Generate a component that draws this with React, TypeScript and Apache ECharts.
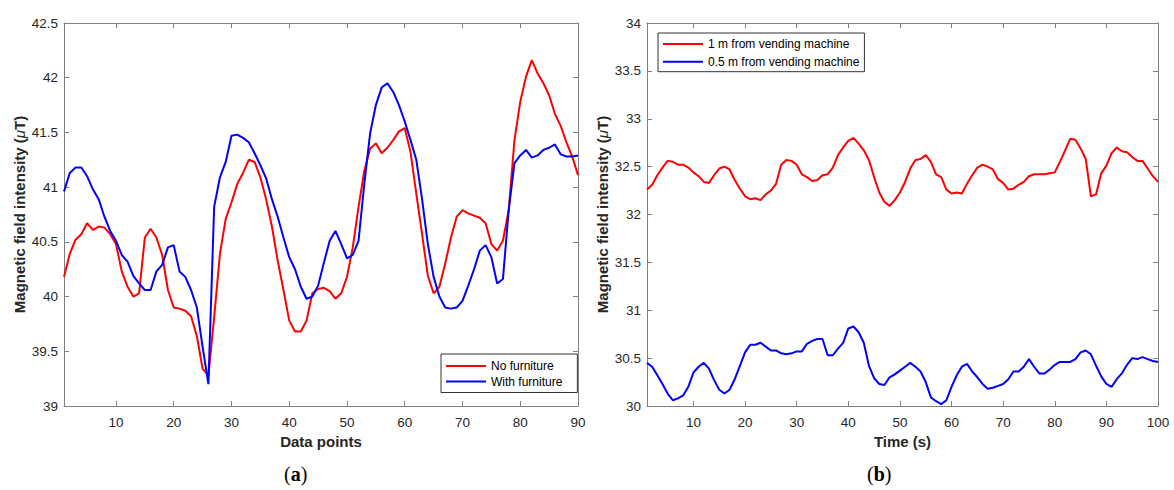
import React, { useEffect, useRef } from "react";
import * as echarts from "echarts";

const noFurniture = [
  40.18, 40.39, 40.52, 40.57, 40.67, 40.61, 40.64, 40.63, 40.57, 40.48,
  40.23, 40.09, 40.0, 40.03, 40.54, 40.62, 40.54, 40.38, 40.06, 39.9,
  39.89, 39.87, 39.82, 39.64, 39.34, 39.28, 39.81, 40.39, 40.71, 40.86,
  41.03, 41.13, 41.25, 41.23, 41.09, 40.89, 40.64, 40.33, 40.06, 39.78,
  39.68, 39.68, 39.78, 40.03, 40.07, 40.08, 40.05, 39.98, 40.03, 40.18,
  40.45, 40.82, 41.15, 41.35, 41.4, 41.31, 41.36, 41.43, 41.51, 41.54,
  41.32, 40.94, 40.57, 40.19, 40.03, 40.09, 40.3, 40.54, 40.73, 40.79,
  40.76, 40.74, 40.72, 40.67, 40.48, 40.42, 40.51, 40.79, 41.43, 41.78,
  42.01, 42.16, 42.04, 41.95, 41.84, 41.67, 41.56, 41.41, 41.28, 41.11,
];

const withFurniture = [
  40.96, 41.13, 41.18, 41.18, 41.1, 40.98, 40.89, 40.73, 40.6, 40.51,
  40.38, 40.32, 40.19, 40.12, 40.06, 40.06, 40.23, 40.29, 40.45, 40.47,
  40.23, 40.18, 40.06, 39.9, 39.54, 39.2, 40.82, 41.09, 41.23, 41.47,
  41.48, 41.45, 41.41, 41.31, 41.2, 41.08, 40.89, 40.73, 40.54, 40.36,
  40.25, 40.09, 39.98, 40.0, 40.1, 40.31, 40.51, 40.6, 40.48, 40.35,
  40.38, 40.51, 41.03, 41.49, 41.75, 41.91, 41.95, 41.87, 41.75, 41.6,
  41.43, 41.25, 40.89, 40.48, 40.18, 40.0, 39.9, 39.89, 39.9, 39.96,
  40.1, 40.25, 40.42, 40.47, 40.36, 40.12, 40.16, 40.79, 41.22, 41.29,
  41.34, 41.27, 41.29, 41.34, 41.36, 41.39, 41.3, 41.28, 41.28, 41.29,
];

const oneMeter = [
  32.26, 32.31, 32.41, 32.49, 32.56, 32.55, 32.52, 32.52, 32.49, 32.44,
  32.4, 32.34, 32.33, 32.41, 32.48, 32.5, 32.47, 32.36, 32.27, 32.19,
  32.16, 32.17, 32.15, 32.21, 32.25, 32.32, 32.52, 32.57, 32.56, 32.52,
  32.42, 32.39, 32.35, 32.36, 32.41, 32.42, 32.49, 32.62, 32.7, 32.77,
  32.8, 32.74, 32.67, 32.57, 32.39, 32.23, 32.13, 32.09, 32.15, 32.23,
  32.34, 32.48, 32.57, 32.58, 32.62, 32.55, 32.42, 32.39, 32.26, 32.22,
  32.23, 32.22, 32.32, 32.41, 32.49, 32.52, 32.5, 32.47, 32.37, 32.33,
  32.26, 32.27, 32.31, 32.34, 32.4, 32.42, 32.42, 32.42, 32.43, 32.44,
  32.55, 32.67, 32.79, 32.78, 32.69, 32.58, 32.19, 32.21, 32.43, 32.51,
  32.64, 32.7, 32.66, 32.65, 32.6, 32.56, 32.56, 32.48, 32.4, 32.34,
];

const halfMeter = [
  30.45, 30.41, 30.32, 30.23, 30.13, 30.06, 30.08, 30.11, 30.2, 30.35,
  30.41, 30.45, 30.39, 30.27, 30.17, 30.13, 30.17, 30.28, 30.42, 30.56,
  30.64, 30.64, 30.66, 30.62, 30.58, 30.58, 30.55, 30.54, 30.55, 30.57,
  30.57, 30.65, 30.68, 30.7, 30.7, 30.53, 30.53, 30.6, 30.66, 30.81,
  30.83, 30.77, 30.66, 30.42, 30.29, 30.23, 30.22, 30.3, 30.33, 30.37,
  30.41, 30.45, 30.41, 30.36, 30.25, 30.09, 30.05, 30.02, 30.06, 30.2,
  30.32, 30.41, 30.44, 30.36, 30.3, 30.23, 30.18, 30.19, 30.21, 30.23,
  30.28, 30.36, 30.36, 30.41, 30.49, 30.41, 30.34, 30.34, 30.38, 30.43,
  30.46, 30.46, 30.46, 30.49, 30.56, 30.58, 30.54, 30.42, 30.31, 30.23,
  30.2, 30.28, 30.34, 30.43, 30.5, 30.49, 30.51, 30.49, 30.47, 30.46,
];

const ticksA = [10, 20, 30, 40, 50, 60, 70, 80, 90];
const ticksB = [10, 20, 30, 40, 50, 60, 70, 80, 90, 100];

const FONT = "'Liberation Sans', Arial, Helvetica, sans-serif";
const AXIS_COLOR = "#808080";
const LABEL_COLOR = "#262626";

function toPairs(arr: number[]) {
  return arr.map((v, i) => [i + 1, v]);
}

function xAx(gridIndex: number, max: number, ticks: number[], pos: "bottom" | "top", name: string) {
  const bottom = pos === "bottom";
  return {
    type: "value",
    gridIndex,
    position: pos,
    min: 1,
    max,
    name: bottom ? name : "",
    nameLocation: "middle",
    nameGap: 26,
    nameTextStyle: { fontFamily: FONT, fontSize: 15, fontWeight: "bold", color: LABEL_COLOR },
    axisLine: { show: true, onZero: false, lineStyle: { color: AXIS_COLOR, width: 1 } },
    axisTick: { show: true, inside: true, length: 5, customValues: ticks, lineStyle: { color: AXIS_COLOR } },
    axisLabel: {
      show: bottom,
      customValues: ticks,
      margin: 9,
      fontFamily: FONT,
      fontSize: 13.5,
      color: LABEL_COLOR,
    },
    splitLine: { show: false },
  };
}

function yAx(gridIndex: number, min: number, max: number, pos: "left" | "right") {
  const left = pos === "left";
  return {
    type: "value",
    gridIndex,
    position: pos,
    min,
    max,
    interval: 0.5,
    name: left ? "Magnetic field intensity ({i|μ}T)" : "",
    nameLocation: "middle",
    nameGap: 37,
    nameTextStyle: {
      fontFamily: FONT,
      fontSize: 15,
      fontWeight: "bold",
      color: LABEL_COLOR,
      rich: { i: { fontFamily: FONT, fontSize: 15, fontStyle: "italic", fontWeight: "normal", color: LABEL_COLOR } },
    },
    axisLine: { show: true, onZero: false, lineStyle: { color: AXIS_COLOR, width: 1 } },
    axisTick: { show: true, inside: true, length: 5, lineStyle: { color: AXIS_COLOR } },
    axisLabel: { show: left, margin: 6, fontFamily: FONT, fontSize: 13.5, color: LABEL_COLOR },
    splitLine: { show: false },
  };
}

function lineSeries(name: string, data: number[], color: string, xi: number, yi: number) {
  return {
    name,
    type: "line",
    xAxisIndex: xi,
    yAxisIndex: yi,
    data: toPairs(data),
    symbol: "none",
    showSymbol: false,
    lineStyle: { color, width: 2 },
    itemStyle: { color },
    clip: true,
  };
}

const legendBase = {
  orient: "vertical",
  icon: "rect",
  itemWidth: 40,
  itemHeight: 2,
  itemGap: 1.5,
  backgroundColor: "#ffffff",
  borderColor: "#333333",
  borderWidth: 1,
  borderRadius: 0,
  textStyle: { fontFamily: FONT, fontSize: 12, color: "#000000", lineHeight: 14 },
};

export default function App() {
  const ref = useRef<HTMLDivElement>(null);
  useEffect(() => {
    if (!ref.current) return;
    const chart = echarts.init(ref.current, null, { renderer: "svg" });
    chart.setOption({
      animation: false,
      backgroundColor: "#ffffff",
      grid: [
        { left: 64, top: 23, width: 514, height: 383 },
        { left: 647, top: 23, width: 511, height: 383 },
      ],
      xAxis: [
        xAx(0, 90, ticksA, "bottom", "Data points"),
        xAx(0, 90, ticksA, "top", ""),
        xAx(1, 100, ticksB, "bottom", "Time (s)"),
        xAx(1, 100, ticksB, "top", ""),
      ],
      yAxis: [
        yAx(0, 39, 42.5, "left"),
        yAx(0, 39, 42.5, "right"),
        yAx(1, 30, 34, "left"),
        yAx(1, 30, 34, "right"),
      ],
      legend: [
        {
          ...legendBase,
          data: ["No furniture", "With furniture"],
          left: 441,
          top: 354,
          padding: [5, 15, 4, 5],
        },
        {
          ...legendBase,
          data: ["1 m from vending machine", "0.5 m from vending machine"],
          left: 658,
          top: 33,
          itemGap: 3.7,
          padding: [4, 5, 3, 5],
        },
      ],
      series: [
        lineSeries("No furniture", noFurniture, "#ff0000", 0, 0),
        lineSeries("With furniture", withFurniture, "#0000ff", 0, 0),
        lineSeries("1 m from vending machine", oneMeter, "#ff0000", 2, 2),
        lineSeries("0.5 m from vending machine", halfMeter, "#0000ff", 2, 2),
      ],
      graphic: [
        {
          type: "text",
          left: 284,
          top: 464,
          style: {
            text: "({b|a})",
            fontFamily: "'Liberation Serif', 'DejaVu Serif', serif",
            fontSize: 20,
            fill: "#000000",
            rich: { b: { fontFamily: "'Liberation Serif', 'DejaVu Serif', serif", fontSize: 20, fontWeight: "bold", fill: "#000000" } },
          },
        },
        {
          type: "text",
          left: 867,
          top: 464,
          style: {
            text: "({b|b})",
            fontFamily: "'Liberation Serif', 'DejaVu Serif', serif",
            fontSize: 20,
            fill: "#000000",
            rich: { b: { fontFamily: "'Liberation Serif', 'DejaVu Serif', serif", fontSize: 20, fontWeight: "bold", fill: "#000000" } },
          },
        },
      ],
    });
    return () => chart.dispose();
  }, []);
  return (
    <div
      ref={ref}
      style={{ position: "fixed", left: 0, top: 0, width: 1174, height: 490, background: "#fff" }}
    />
  );
}
